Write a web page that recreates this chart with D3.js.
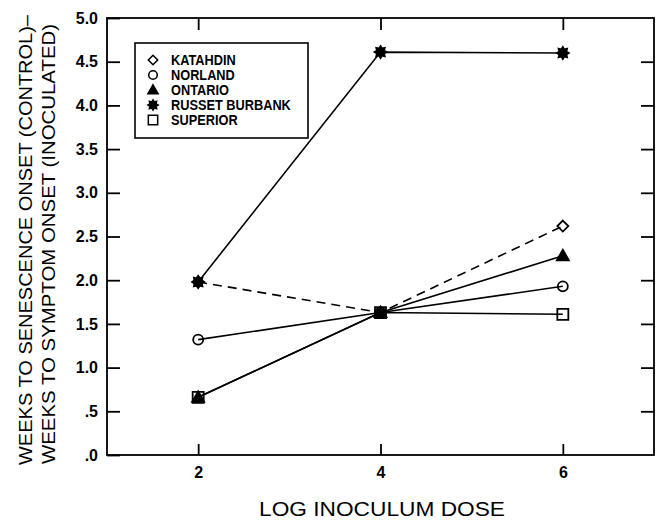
<!DOCTYPE html>
<html lang="en">
<head>
<meta charset="UTF-8">
<title>Log inoculum dose</title>
<script src="https://d3js.org/d3.v7.min.js"></script>
<style>
    body { margin: 0; background: #fff; }
    svg { font-family: "Liberation Sans", Arial, Helvetica, sans-serif; }
    .tick text { font-size: 16px; font-weight: bold; fill: #000; }
    .axis path, .axis line { stroke: #000; stroke-width: 1.8px; }
    .legend text { font-size: 14.5px; font-weight: bold; }
</style>
</head>
<body>
<script>
// values
const dose = [2, 4, 6]
const katahdin = [1.98, 1.63, 2.62]
const norland = [1.32, 1.63, 1.93]
const ontario = [0.66, 1.63, 2.28]
const russet = [1.98, 4.61, 4.60]
const superior = [0.66, 1.63, 1.61]
const seriesNames = ['KATAHDIN', 'NORLAND', 'ONTARIO', 'RUSSET BURBANK', 'SUPERIOR']
const xTicks = [2, 4, 6]
const yTicks = [0, 0.5, 1, 1.5, 2, 2.5, 3, 3.5, 4, 4.5, 5]

const width = 661, height = 523
const pLeft = 107, pRight = 654, pTop = 18, pBottom = 455

const svg = d3.select('body').append('svg')
    .attr('width', width)
    .attr('height', height)

const x = d3.scaleLinear().domain([1, 7]).range([pLeft, pRight])
const y = d3.scaleLinear().domain([0, 5]).range([pBottom, pTop])

// frame
svg.append('rect')
    .attr('x', pLeft).attr('y', pTop)
    .attr('width', pRight - pLeft).attr('height', pBottom - pTop)
    .attr('fill', 'none').attr('stroke', '#000').attr('stroke-width', 1.8)

const yFmt = d => d === 0 ? '.0' : (d < 1 ? '.5' : d.toFixed(1))

svg.append('g').attr('class', 'axis')
    .attr('transform', `translate(${pLeft},0)`)
    .call(d3.axisLeft(y).tickValues(yTicks).tickSize(-13).tickSizeOuter(0).tickPadding(9).tickFormat(yFmt))
    .call(g => g.select('.domain').remove())

svg.append('g').attr('class', 'axis')
    .attr('transform', `translate(${pRight},0)`)
    .call(d3.axisRight(y).tickValues(yTicks.slice(1, -1)).tickSize(-13).tickSizeOuter(0).tickFormat(''))
    .call(g => g.select('.domain').remove())

svg.append('g').attr('class', 'axis')
    .attr('transform', `translate(0,${pBottom})`)
    .call(d3.axisBottom(x).tickValues(xTicks).tickSize(-11).tickSizeOuter(0).tickPadding(12).tickFormat(d3.format('d')))
    .call(g => g.select('.domain').remove())

svg.append('g').attr('class', 'axis')
    .attr('transform', `translate(0,${pTop})`)
    .call(d3.axisTop(x).tickValues(xTicks).tickSize(-12).tickSizeOuter(0).tickFormat(''))
    .call(g => g.select('.domain').remove())

// axis titles
svg.append('text')
    .attr('transform', 'translate(32,240) rotate(-90)')
    .attr('text-anchor', 'middle')
    .attr('font-size', 19)
    .attr('textLength', 450).attr('lengthAdjust', 'spacingAndGlyphs')
    .text('WEEKS TO SENESCENCE ONSET (CONTROL)–')

svg.append('text')
    .attr('transform', 'translate(55,244) rotate(-90)')
    .attr('text-anchor', 'middle')
    .attr('font-size', 19)
    .attr('textLength', 440).attr('lengthAdjust', 'spacingAndGlyphs')
    .text('WEEKS TO SYMPTOM ONSET (INOCULATED)')

svg.append('text')
    .attr('x', 382).attr('y', 516)
    .attr('text-anchor', 'middle')
    .attr('font-size', 20)
    .attr('textLength', 246).attr('lengthAdjust', 'spacingAndGlyphs')
    .text('LOG INOCULUM DOSE')

// marker shapes
function star(r) {
    let pts = []
    for (let i = 0; i < 16; i++) {
        let a = i * Math.PI / 8
        let rr = i % 2 === 0 ? r : r * 0.65
        pts.push([rr * Math.sin(a), -rr * Math.cos(a)])
    }
    return 'M' + pts.join('L') + 'Z'
}
const markers = {
    'KATAHDIN': { d: 'M0,-5.5L5.5,0L0,5.5L-5.5,0Z', fill: 'none' },
    'NORLAND': { d: d3.symbol(d3.symbolCircle, Math.PI * 25)(), fill: 'none' },
    'ONTARIO': { d: 'M0,-6L6,4.5L-6,4.5Z', fill: '#000' },
    'RUSSET BURBANK': { d: star(6), fill: '#000' },
    'SUPERIOR': { d: 'M-5.5,-5.5H5.5V5.5H-5.5Z', fill: 'none' }
}

const series = [
    { name: 'KATAHDIN', values: katahdin, dash: '9,6' },
    { name: 'NORLAND', values: norland, dash: null },
    { name: 'ONTARIO', values: ontario, dash: null },
    { name: 'RUSSET BURBANK', values: russet, dash: null },
    { name: 'SUPERIOR', values: superior, dash: null }
]

const line = d3.line()
    .x((d, i) => x(dose[i]))
    .y(d => y(d))

svg.selectAll('.series')
    .data(series)
    .enter()
    .append('path')
    .attr('class', 'series')
    .attr('d', d => line(d.values))
    .attr('fill', 'none')
    .attr('stroke', '#000')
    .attr('stroke-width', 1.6)
    .attr('stroke-dasharray', d => d.dash)

series.forEach(s => {
    let m = markers[s.name]
    svg.selectAll(null)
        .data(s.values)
        .enter()
        .append('path')
        .attr('transform', (d, i) => `translate(${x(dose[i])},${y(d)})`)
        .attr('d', m.d)
        .attr('fill', m.fill)
        .attr('stroke', '#000')
        .attr('stroke-width', 1.8)
})

// legend
const legend = svg.append('g').attr('class', 'legend')
legend.append('rect')
    .attr('x', 135).attr('y', 43)
    .attr('width', 173).attr('height', 95)
    .attr('fill', '#fff').attr('stroke', '#000').attr('stroke-width', 1.6)

const item = legend.selectAll('.item')
    .data(seriesNames)
    .enter()
    .append('g')
    .attr('class', 'item')
    .attr('transform', (d, i) => `translate(153,${60 + i * 15})`)

item.append('path')
    .attr('d', d => markers[d].d)
    .attr('transform', 'scale(0.85)')
    .attr('fill', d => markers[d].fill)
    .attr('stroke', '#000')
    .attr('stroke-width', 1.8)

item.append('text')
    .attr('x', 18).attr('y', 5)
    .text(d => d)
    .each(function () {
        // narrow the type a little, like the original lettering
        let w = this.getComputedTextLength()
        d3.select(this).attr('textLength', w * 0.88).attr('lengthAdjust', 'spacingAndGlyphs')
    })
</script>
</body>
</html>
